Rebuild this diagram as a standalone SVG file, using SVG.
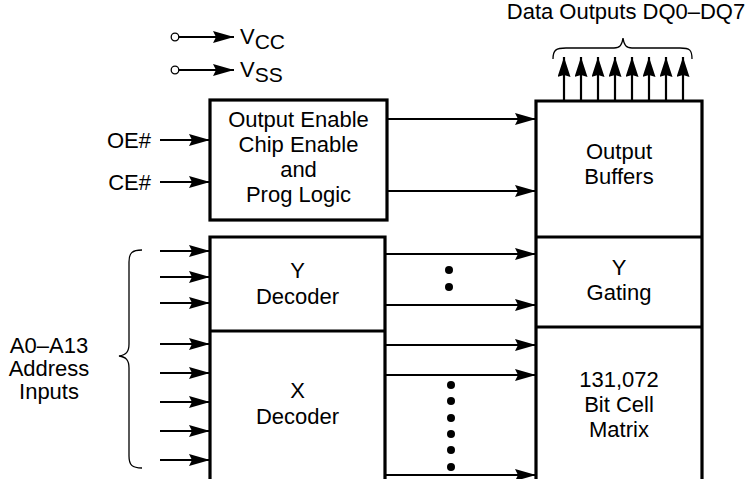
<svg xmlns="http://www.w3.org/2000/svg" width="746" height="479" viewBox="0 0 746 479">
<style>
text{font-family:"Liberation Sans",Arial,sans-serif;font-size:22px;fill:#000}
.m{text-anchor:middle}
.e{text-anchor:end}
.box{fill:none;stroke:#000;stroke-width:3.2}
.ln{fill:none;stroke:#000;stroke-width:2.2}
.thin{fill:none;stroke:#000;stroke-width:1.3}
</style>
<defs>
<marker id="ah" markerUnits="userSpaceOnUse" markerWidth="22" markerHeight="14" refX="21" refY="6" orient="auto">
<path d="M0,0 L21,6 L0,12 L3,6 z" fill="#000"/>
</marker>
<marker id="au" markerUnits="userSpaceOnUse" markerWidth="22" markerHeight="14" refX="20" refY="6.5" orient="auto">
<path d="M0,0 L20,6.5 L0,13 L2,6.5 z" fill="#000"/>
</marker>
</defs>
<g id="power">
<circle cx="175" cy="37" r="3.8" fill="#fff" stroke="#000" stroke-width="1.3"/>
<line class="ln" x1="178.8" y1="37" x2="234" y2="37" marker-end="url(#ah)"/>
<text x="240" y="44">V<tspan font-size="21" dy="5">CC</tspan></text>
<circle cx="175" cy="70" r="3.8" fill="#fff" stroke="#000" stroke-width="1.3"/>
<line class="ln" x1="178.8" y1="70" x2="234" y2="70" marker-end="url(#ah)"/>
<text x="240" y="77">V<tspan font-size="21" dy="5">SS</tspan></text>
</g>
<g id="logic">
<rect class="box" x="210" y="100" width="177" height="120"/>
<text class="m" x="298.5" y="127" font-size="23">Output Enable</text>
<text class="m" x="298.5" y="152" font-size="23">Chip Enable</text>
<text class="m" x="298.5" y="177" font-size="23">and</text>
<text class="m" x="298.5" y="202" font-size="23">Prog Logic</text>
</g>
<g id="decoder">
<path class="box" d="M210,479 V237 H385 V479"/>
<line class="box" x1="210" y1="331" x2="385" y2="331"/>
<text class="m" x="297.5" y="278">Y</text>
<text class="m" x="297.5" y="304">Decoder</text>
<text class="m" x="297.5" y="398">X</text>
<text class="m" x="297.5" y="424">Decoder</text>
</g>
<g id="right">
<path class="box" d="M536,479 V101 H702 V479"/>
<line class="box" x1="536" y1="237" x2="702" y2="237"/>
<line class="box" x1="536" y1="327" x2="702" y2="327"/>
<text class="m" x="619" y="159">Output</text>
<text class="m" x="619" y="184">Buffers</text>
<text class="m" x="619" y="275">Y</text>
<text class="m" x="619" y="300">Gating</text>
<text class="m" x="619" y="387">131,072</text>
<text class="m" x="619" y="412">Bit Cell</text>
<text class="m" x="619" y="437">Matrix</text>
</g>
<g id="labels">
<text class="e" x="151" y="148">OE#</text>
<text class="e" x="151" y="190">CE#</text>
<text class="m" x="49" y="353">A0–A13</text>
<text class="m" x="49" y="376">Address</text>
<text class="m" x="49" y="399">Inputs</text>
<text class="m" x="626" y="19">Data Outputs DQ0–DQ7</text>
</g>
<g id="connectors">
<line class="ln" x1="160" y1="140" x2="210" y2="140" marker-end="url(#ah)"/>
<line class="ln" x1="160" y1="182" x2="210" y2="182" marker-end="url(#ah)"/>
<line class="ln" x1="387" y1="119" x2="536" y2="119" marker-end="url(#ah)"/>
<line class="ln" x1="387" y1="191" x2="536" y2="191" marker-end="url(#ah)"/>
<line class="ln" x1="160" y1="251" x2="210" y2="251" marker-end="url(#ah)"/>
<line class="ln" x1="160" y1="277" x2="210" y2="277" marker-end="url(#ah)"/>
<line class="ln" x1="160" y1="303" x2="210" y2="303" marker-end="url(#ah)"/>
<line class="ln" x1="160" y1="344" x2="210" y2="344" marker-end="url(#ah)"/>
<line class="ln" x1="160" y1="373" x2="210" y2="373" marker-end="url(#ah)"/>
<line class="ln" x1="160" y1="402" x2="210" y2="402" marker-end="url(#ah)"/>
<line class="ln" x1="160" y1="431" x2="210" y2="431" marker-end="url(#ah)"/>
<line class="ln" x1="160" y1="460" x2="210" y2="460" marker-end="url(#ah)"/>
<line class="ln" x1="385" y1="254" x2="536" y2="254" marker-end="url(#ah)"/>
<line class="ln" x1="385" y1="305" x2="536" y2="305" marker-end="url(#ah)"/>
<line class="ln" x1="385" y1="345" x2="536" y2="345" marker-end="url(#ah)"/>
<line class="ln" x1="385" y1="375" x2="536" y2="375" marker-end="url(#ah)"/>
<line class="ln" x1="385" y1="475" x2="536" y2="475" marker-end="url(#ah)"/>
<g fill="#000">
<circle cx="449" cy="270" r="4"/>
<circle cx="449" cy="287" r="4"/>
<circle cx="451" cy="385" r="4"/>
<circle cx="451" cy="401" r="4"/>
<circle cx="451" cy="418" r="4"/>
<circle cx="451" cy="434" r="4"/>
<circle cx="451" cy="450" r="4"/>
<circle cx="451" cy="467" r="4"/>
</g>
<line class="ln" x1="564" y1="101" x2="564" y2="57" marker-end="url(#au)"/>
<line class="ln" x1="581" y1="101" x2="581" y2="57" marker-end="url(#au)"/>
<line class="ln" x1="598" y1="101" x2="598" y2="57" marker-end="url(#au)"/>
<line class="ln" x1="615" y1="101" x2="615" y2="57" marker-end="url(#au)"/>
<line class="ln" x1="632" y1="101" x2="632" y2="57" marker-end="url(#au)"/>
<line class="ln" x1="649" y1="101" x2="649" y2="57" marker-end="url(#au)"/>
<line class="ln" x1="666" y1="101" x2="666" y2="57" marker-end="url(#au)"/>
<line class="ln" x1="683" y1="101" x2="683" y2="57" marker-end="url(#au)"/>
<path class="thin" d="M553,59 C553,50 556,48 566,48 H614 C620,48 622,45 623,38 C624,45 626,48 632,48 H680 C690,48 692,50 692,59"/>
<path class="thin" d="M142,250 C132,250 129,253 129,262 V344 C129,352 126,355 119,356 C126,357 129,360 129,368 V456 C129,465 132,468 142,468"/>
</g>
</svg>
